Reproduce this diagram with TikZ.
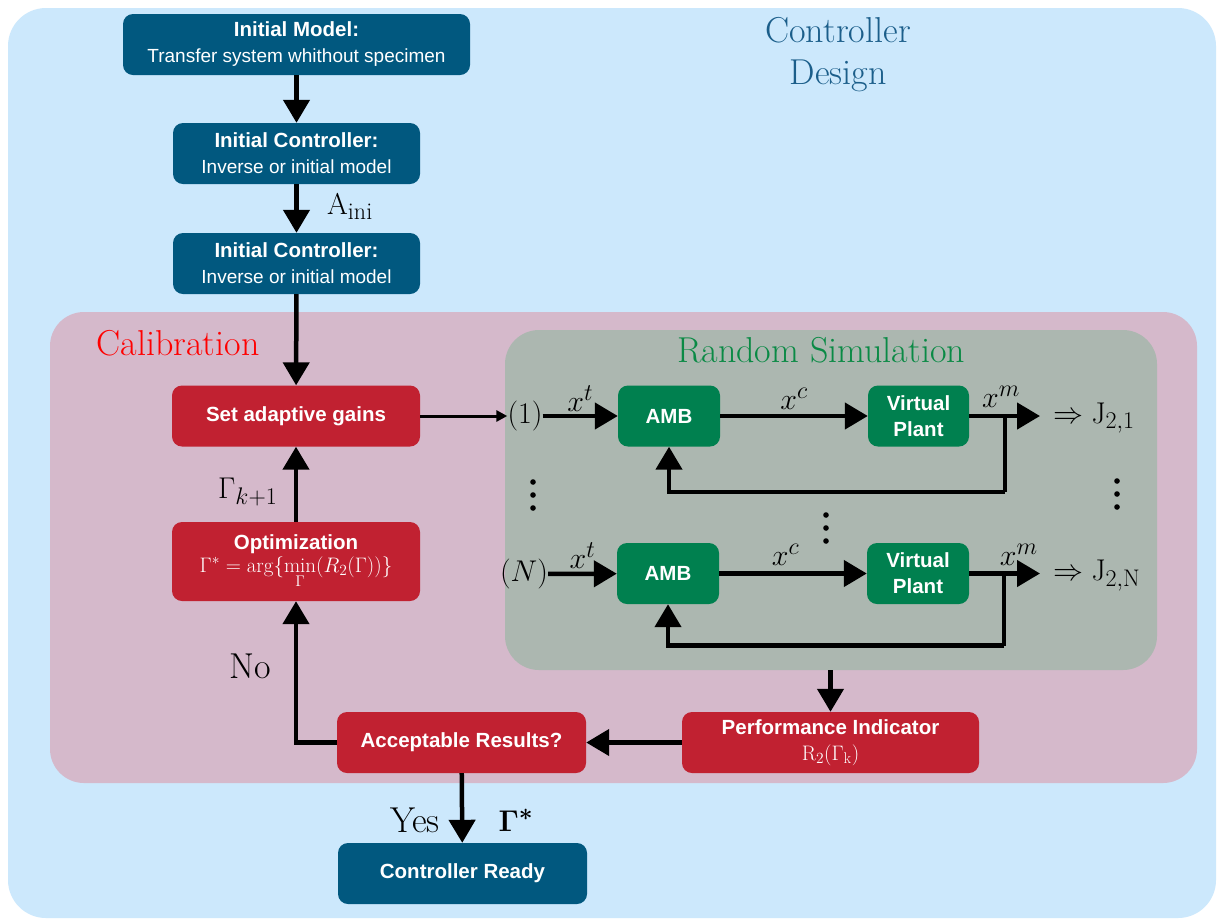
\RequirePackage{fix-cm}
\documentclass[tikz,border=0pt]{standalone}
\usepackage{amsmath}
\usepackage{fontspec}
\newfontfamily\arial{Liberation Sans}
\usetikzlibrary{arrows.meta,calc}
\DeclareMathSizes{30}{30}{24}{18}
\DeclareMathSizes{21}{21}{15.5}{12}

\definecolor{bgblue}{HTML}{CCE8FC}
\definecolor{calpink}{HTML}{D5B9CB}
\definecolor{simgray}{HTML}{ACB7B0}
\definecolor{tealbox}{HTML}{01587F}
\definecolor{redbox}{HTML}{C12131}
\definecolor{greenbox}{HTML}{00804F}
\definecolor{titleblue}{HTML}{1B5E8A}
\definecolor{simgreen}{HTML}{0A8A45}

\tikzset{
  box/.style={rounded corners=10pt, text=white, align=center, inner sep=0pt,
    font=\arial\fontsize{19}{26}\selectfont},
  tealnode/.style={box, fill=tealbox},
  rednode/.style={box, fill=redbox},
  greennode/.style={box, fill=greenbox},
  flow/.style={line width=4.5pt, -{Triangle[length=23pt,width=26pt]}},
  thinflow/.style={line width=3pt, -{Triangle[length=11pt,width=11pt]}},
  wire/.style={line width=4.5pt},
  mlabel/.style={inner sep=0pt, font=\fontsize{30}{34}\selectfont},
  serif/.style={inner sep=0pt, font=\fontsize{36}{42}\selectfont},
  dot/.style={fill=black},
}
\newcommand{\bhead}[1]{{\bfseries\fontsize{20.5}{26}\selectfont #1}}
\newcommand{\boxmath}[1]{{\fontsize{21}{24}\selectfont$#1$}}

\begin{document}
\begin{tikzpicture}[x=1pt,y=-1pt]
\useasboundingbox (0,0) rectangle (1225,922);
\fill[white] (0,0) rectangle (1225,922);

% regions
\fill[bgblue, rounded corners=38pt] (8,8) rectangle (1216,918);
\fill[calpink, rounded corners=34pt] (50,312) rectangle (1197,783);
\node[fill=simgray, rounded corners=34pt, minimum width=652pt, minimum height=340pt,
  inner sep=0pt] (simbox) at (831,500) {};

% region titles
\node[serif, text=titleblue, align=center] (ctitle) at (838,55) {Controller\\Design};
\node[serif, text=red] (caltitle) at (178,343) {Calibration};
\node[serif, text=simgreen] (simtitle) at (821,350) {Random Simulation};

% main flow
\node[tealnode, minimum width=347pt, minimum height=61pt] (init) at (296.5,44.5)
  {\bhead{Initial Model:}\\Transfer system whithout specimen};
\node[tealnode, minimum width=247pt, minimum height=61pt] (ic1) at (296.5,153.5)
  {\bhead{Initial Controller:}\\Inverse or initial model};
\node[tealnode, minimum width=247pt, minimum height=61pt] (ic2) at (296.5,263.5)
  {\bhead{Initial Controller:}\\Inverse or initial model};
\node[rednode, minimum width=248pt, minimum height=61pt] (sag) at (296,416)
  {\bhead{Set adaptive gains}};
\node[rednode, minimum width=248pt, minimum height=79pt] (opt) at (296,561.5)
  {\bhead{Optimization}\\[-3pt]\boxmath{\Gamma^{*}=\arg\{\mathop{\mathrm{min}}\limits_{\Gamma}(R_2(\Gamma))\}}};
\node[rednode, minimum width=249pt, minimum height=61pt] (acc) at (461.5,742.5)
  {\bhead{Acceptable Results?}};
\node[rednode, minimum width=297pt, minimum height=61pt] (perf) at (830.5,742.5)
  {\bhead{Performance Indicator}\\\boxmath{\mathrm{R}_2(\Gamma_{\mathrm{k}})}};
\node[tealnode, minimum width=249pt, minimum height=61pt] (ready) at (462.5,873.5)
  {\bhead{Controller Ready}};

% simulation blocks
\node[greennode, minimum width=102pt, minimum height=61pt] (amb1) at (669,416) {\bhead{AMB}};
\node[greennode, minimum width=101pt, minimum height=61pt] (vp1) at (918.5,416) {\bhead{Virtual}\\\bhead{Plant}};
\node[greennode, minimum width=102pt, minimum height=61pt] (amb2) at (668,573.5) {\bhead{AMB}};
\node[greennode, minimum width=102pt, minimum height=61pt] (vp2) at (918,573.5) {\bhead{Virtual}\\\bhead{Plant}};

\node[mlabel] (n1) at (525,416) {$(1)$};
\node[mlabel] (nN) at (524,574) {$(N)$};
\coordinate (out1) at (1040,416);
\coordinate (out2) at (1040,573.5);
\coordinate (fb1) at (1005,416);
\coordinate (fb2) at (1004,573.5);
\node[mlabel, anchor=west] (j1) at (1053,418) {$\Rightarrow\mathrm{J}_{2,1}$};
\node[mlabel, anchor=west] (jN) at (1053,576) {$\Rightarrow\mathrm{J}_{2,\mathrm{N}}$};

% vertical ellipses between the simulation rows
\foreach \px/\py in {533/482, 826/515, 1117/481}{
  \foreach \k in {0,1,2}{
    \fill[dot] (\px,\py+13*\k) circle (2.8pt);
  }
}

% labels of the main flow
\node[mlabel, anchor=base west] (aini) at (327,214) {$\mathrm{A}_{\mathrm{ini}}$};
\node[mlabel, anchor=base west] (gk) at (218,498) {$\Gamma_{k+1}$};
\node[serif] (no) at (250,666) {No};
\node[serif] (yes) at (415,820) {Yes};
\node[mlabel] (gstar) at (516,820) {$\boldsymbol{\Gamma^{*}}$};

% connectors of the main flow
\draw[flow] (init) -- (ic1);
\draw[flow] (ic1) -- (ic2);
\draw[flow] (ic2) -- (sag);
\draw[flow] (opt) -- (sag);
\draw[flow] (acc.west) -| (opt.south);
\draw[flow] (perf) -- (acc);
\draw[flow] (perf.north |- simbox.south) -- (perf.north);
\draw[flow] (acc) -- (ready);
\draw[thinflow] (sag) -- (n1);

% simulation row 1
\draw[flow] (n1) -- node[mlabel, above=2pt] (xt1) {$x^{t}$} (amb1);
\draw[flow] (amb1) -- node[mlabel, above=4pt] (xc1) {$x^{c}$} (vp1);
\draw[flow] (vp1) -- node[mlabel, above=6pt, pos=0.45] (xm1) {$x^{m}$} (out1);
\draw[wire] (fb1) -- ++(0,76) coordinate (fbl1);
\draw[flow] (fbl1) -| (amb1.south);

% simulation row N
\draw[flow] (nN) -- node[mlabel, above=3pt] (xt2) {$x^{t}$} (amb2);
\draw[flow] (amb2) -- node[mlabel, above=6pt, pos=0.45] (xc2) {$x^{c}$} (vp2);
\draw[flow] (vp2) -- node[mlabel, above=6pt, pos=0.7] (xm2) {$x^{m}$} (out2);
\draw[wire] (fb2) -- ++(0,72) coordinate (fbl2);
\draw[flow] (fbl2) -| (amb2.south);
\end{tikzpicture}
\end{document}
